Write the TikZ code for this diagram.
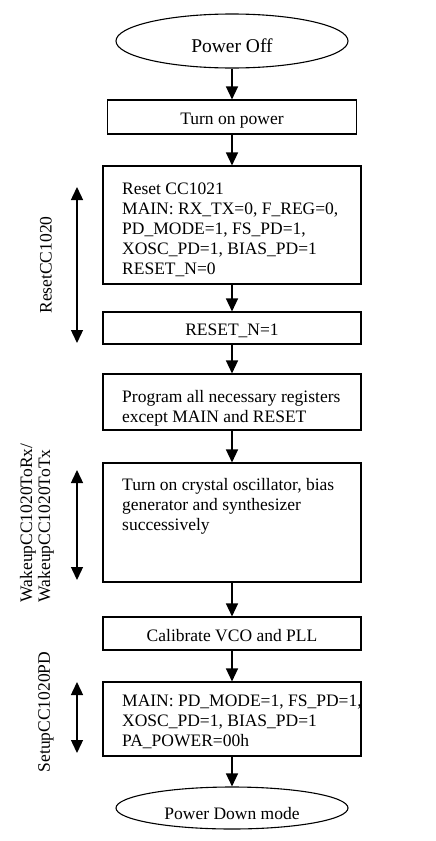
\documentclass[tikz,border=0pt]{standalone}
\usepackage{fontspec}
\setmainfont{Liberation Serif}
\usetikzlibrary{shapes.geometric,arrows.meta}
\begin{document}
\begin{tikzpicture}[x=1pt,y=-1pt,
  txt/.style={font=\fontsize{17.5}{20}\selectfont},
  term/.style={draw,line width=1.1pt,ellipse,minimum width=232pt,inner sep=0pt,txt,text height=23.4pt,text depth=0pt},
  box/.style={draw,line width=1.1pt,rectangle,inner sep=0pt,txt,text height=15pt,text depth=0pt},
  btext/.style={txt,inner sep=0pt,anchor=north west,align=left},
  flow/.style={line width=1.4pt,-{Triangle[length=13pt,width=12pt]}},
  span/.style={line width=1.4pt,{Triangle[length=13pt,width=12pt]}-{Triangle[length=13pt,width=12pt]}},
  side/.style={txt,inner sep=0pt,rotate=90,font=\fontsize{17.5}{18}\selectfont}]
\useasboundingbox (0,0) rectangle (436,841);
\fill[white] (0,0) rectangle (436,841);

% main nodes
\node[term,minimum height=54pt,font=\fontsize{19.5}{22}\selectfont] (po) at (232,41) {Power Off};
\node[box,minimum width=249pt,minimum height=34pt] (top) at (232,117) {Turn on power};
\node[box,minimum width=258pt,minimum height=118pt] (reset) at (232,225) {};
\node[box,minimum width=258pt,minimum height=32pt] (rn) at (232,328) {RESET\_N=1};
\node[box,minimum width=258pt,minimum height=56pt] (prog) at (232,402) {};
\node[box,minimum width=258pt,minimum height=119pt] (xosc) at (232,522.5) {};
\node[box,minimum width=258pt,minimum height=33pt] (cal) at (232,633.5) {Calibrate VCO and PLL};
\node[box,minimum width=258pt,minimum height=74pt] (setup) at (232,719) {};
\node[term,minimum height=42pt] (pd) at (232,808) {Power Down mode};

% box texts
\node[btext] (resett) at (122,183) {Reset CC1021\\MAIN: RX\_TX=0, F\_REG=0,\\PD\_MODE=1, FS\_PD=1,\\XOSC\_PD=1, BIAS\_PD=1\\RESET\_N=0};
\node[btext] (progt) at (122,390) {Program all necessary registers\\except MAIN and RESET};
\node[btext] (xosct) at (122,478) {Turn on crystal oscillator, bias\\generator and synthesizer\\successively};
\node[btext] (setupt) at (122,695) {MAIN: PD\_MODE=1, FS\_PD=1,\\XOSC\_PD=1, BIAS\_PD=1\\PA\_POWER=00h};

% flow arrows
\draw[flow] (po) -- (top);
\draw[flow] (top) -- (reset);
\draw[flow] (reset) -- (rn);
\draw[flow] (rn) -- (prog);
\draw[flow] (prog) -- (xosc);
\draw[flow] (xosc) -- (cal);
\draw[flow] (cal) -- (setup);
\draw[flow] (setup) -- (pd);

% side spans
\coordinate (s1a) at (77,187);
\coordinate (s1b) at (77,343);
\coordinate (s2a) at (77,470);
\coordinate (s2b) at (77,580);
\coordinate (s3a) at (77,682);
\coordinate (s3b) at (77,753);
\draw[span] (s1a) -- (s1b);
\draw[span] (s2a) -- (s2b);
\draw[span] (s3a) -- (s3b);

\node[side] (l1) at (46,265) {ResetCC1020};
\node[side,align=left] (l2) at (37,523) {WakeupCC1020ToRx/\\WakeupCC1020ToTx};
\node[side] (l3) at (46,712) {SetupCC1020PD};
\end{tikzpicture}
\end{document}
